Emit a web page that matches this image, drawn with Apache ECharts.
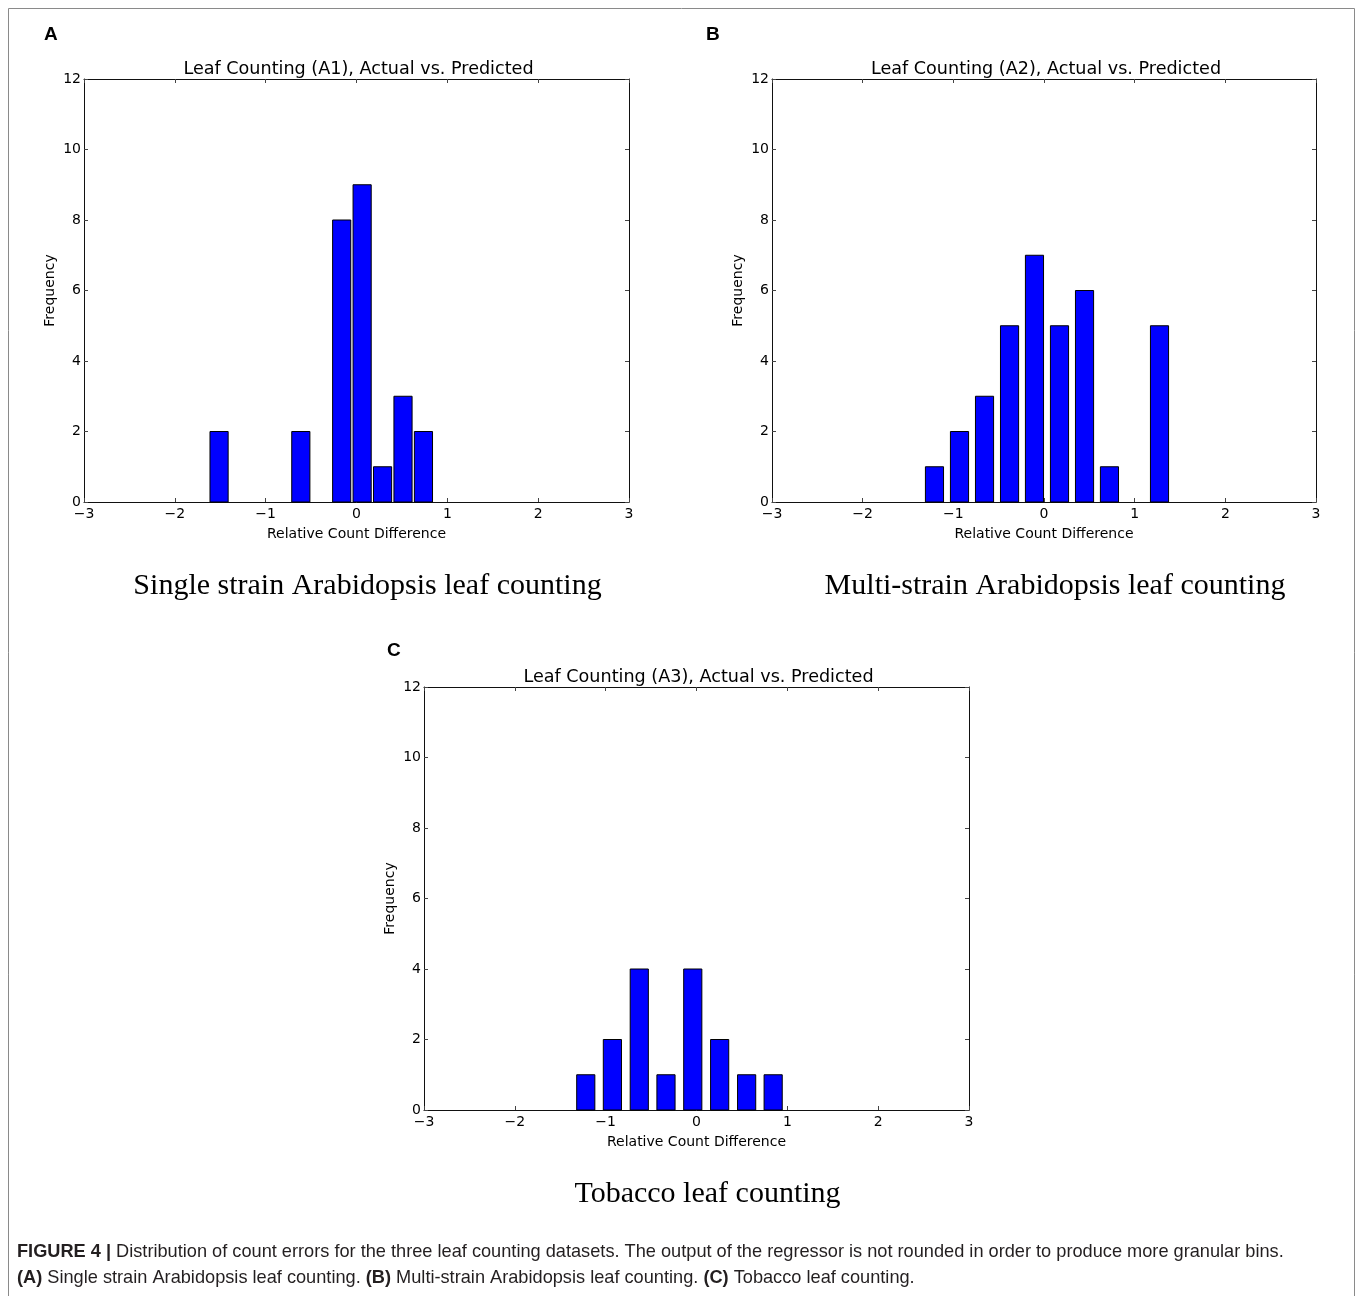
<!DOCTYPE html>
<html><head><meta charset="utf-8">
<script src="https://cdn.jsdelivr.net/npm/echarts@6/dist/echarts.min.js"></script>
<style>html,body{margin:0;padding:0;background:#fff}#c{width:1358px;height:1296px}</style>
</head><body><div id="c"></div>
<script>
// ---------- data ----------
const xTickValues = [-3, -2, -1, 0, 1, 2, 3];
const yTickValues = [0, 2, 4, 6, 8, 10, 12];

const centersA = [-1.513, -1.288, -1.063, -0.838, -0.613, -0.388, -0.163, 0.062, 0.287, 0.512, 0.737];
const countsA  = [2, 0, 0, 0, 2, 0, 8, 9, 1, 3, 2];

const centersB = [-1.208, -0.932, -0.656, -0.380, -0.105, 0.171, 0.447, 0.722, 0.998, 1.274];
const countsB  = [1, 2, 3, 5, 7, 5, 6, 1, 0, 5];

const centersC = [-1.219, -0.926, -0.630, -0.336, -0.041, 0.255, 0.552, 0.844];
const countsC  = [1, 2, 4, 1, 4, 2, 1, 1];

const barWidthData = 0.2;

const chartTitles = [
  'Leaf Counting (A1), Actual vs. Predicted',
  'Leaf Counting (A2), Actual vs. Predicted',
  'Leaf Counting (A3), Actual vs. Predicted'
];
const panelLetters = ['A', 'B', 'C'];
const subtitles = [
  'Single strain Arabidopsis leaf counting',
  'Multi-strain Arabidopsis leaf counting',
  'Tobacco leaf counting'
];
const xName = 'Relative Count Difference';
const yName = 'Frequency';
const captionLine1 = ['FIGURE 4 |', ' Distribution of count errors for the three leaf counting datasets. The output of the regressor is not rounded in order to produce more granular bins.'];
const captionLine2 = [['(A)', ' Single strain Arabidopsis leaf counting. '], ['(B)', ' Multi-strain Arabidopsis leaf counting. '], ['(C)', ' Tobacco leaf counting.']];

// ---------- layout ----------
const grids = [
  {left: 84, top: 79, width: 545, height: 423},
  {left: 772, top: 79, width: 544, height: 423},
  {left: 424, top: 687, width: 545, height: 423}
];
const panelLetterPos = [[44, 35], [706, 35], [387, 651]];
const subtitleY = [586, 586, 1194];

const MPL = 'DejaVu Sans';
const fmt = v => String(v).replace('-', '\u2212');

const chart = echarts.init(document.getElementById('c'), null, {renderer: 'canvas'});

const xAxes = [], yAxes = [], series = [], graphics = [];
const allCenters = [centersA, centersB, centersC];
const allCounts = [countsA, countsB, countsC];

grids.forEach((g, i) => {
  const tickStyle = {show: true, inside: true, length: 4, lineStyle: {color: '#444', width: 1}};
  const lineStyle = {show: true, onZero: false, lineStyle: {color: '#111', width: 1}};
  xAxes.push({
    type: 'value', gridIndex: i, position: 'bottom', min: xTickValues[0], max: xTickValues[xTickValues.length - 1], interval: 1,
    axisLine: lineStyle, axisTick: tickStyle, splitLine: {show: false},
    axisLabel: {show: true, margin: 5, color: '#000', fontFamily: MPL, fontSize: 14, formatter: fmt},
    name: xName, nameLocation: 'middle', nameGap: 25,
    nameTextStyle: {color: '#000', fontFamily: MPL, fontSize: 14}
  });
  xAxes.push({
    type: 'value', gridIndex: i, position: 'top', min: xTickValues[0], max: xTickValues[xTickValues.length - 1], interval: 1,
    axisLine: lineStyle, axisTick: tickStyle, splitLine: {show: false}, axisLabel: {show: false}
  });
  yAxes.push({
    type: 'value', gridIndex: i, position: 'left', min: yTickValues[0], max: yTickValues[yTickValues.length - 1], interval: 2,
    axisLine: lineStyle, axisTick: tickStyle, splitLine: {show: false},
    axisLabel: {show: true, margin: 3, color: '#000', fontFamily: MPL, fontSize: 14},
    name: yName, nameLocation: 'middle', nameGap: 27,
    nameTextStyle: {color: '#000', fontFamily: MPL, fontSize: 14}
  });
  yAxes.push({
    type: 'value', gridIndex: i, position: 'right', min: yTickValues[0], max: yTickValues[yTickValues.length - 1], interval: 2,
    axisLine: lineStyle, axisTick: tickStyle, splitLine: {show: false}, axisLabel: {show: false}
  });

  series.push({
    type: 'custom',
    xAxisIndex: i * 2, yAxisIndex: i * 2,
    data: allCenters[i].map((c, k) => [c, allCounts[i][k]]),
    renderItem: (params, api) => {
      const c = api.value(0), h = api.value(1);
      if (!h) return null;
      const p0 = api.coord([c - barWidthData / 2, h]);
      const p1 = api.coord([c + barWidthData / 2, 0]);
      return {
        type: 'rect',
        shape: {x: p0[0], y: p0[1], width: p1[0] - p0[0], height: p1[1] - p0[1]},
        style: {fill: '#0000ff', stroke: '#000', lineWidth: 1}
      };
    },
    z: 1
  });

  const cx = g.left + g.width / 2;
  graphics.push({
    type: 'text', x: cx + 2, y: g.top - 10,
    style: {text: chartTitles[i], fill: '#000', font: '17.6px "DejaVu Sans"', align: 'center', verticalAlign: 'middle'}
  });
  graphics.push({
    type: 'text', x: panelLetterPos[i][0], y: panelLetterPos[i][1],
    style: {text: panelLetters[i], fill: '#000', font: 'bold 19px "Liberation Sans"', align: 'left', verticalAlign: 'middle'}
  });
  graphics.push({
    type: 'text', x: cx + 11, y: subtitleY[i],
    style: {text: subtitles[i], fill: '#000', font: '30px "Liberation Serif"', align: 'center', verticalAlign: 'middle'}
  });
});

// outer frame
graphics.push({
  type: 'rect', shape: {x: 8.5, y: 8.5, width: 1346, height: 1310},
  style: {fill: 'none', stroke: '#8a8a8a', lineWidth: 1}, silent: true, z: -1
});
// caption
const capRich = {
  b: {font: 'bold 18.2px "Liberation Sans"', fill: '#231f20'},
  r: {font: '18.2px "Liberation Sans"', fill: '#231f20'}
};
graphics.push({
  type: 'text', x: 17, y: 1252,
  style: {text: '{b|' + captionLine1[0] + '}{r|' + captionLine1[1] + '}', rich: capRich, align: 'left', verticalAlign: 'middle'}
});
graphics.push({
  type: 'text', x: 17, y: 1278,
  style: {text: captionLine2.map(p => '{b|' + p[0] + '}{r|' + p[1] + '}').join(''), rich: capRich, align: 'left', verticalAlign: 'middle'}
});

chart.setOption({
  animation: false,
  backgroundColor: '#fff',
  grid: grids.map(g => Object.assign({containLabel: false}, g)),
  xAxis: xAxes,
  yAxis: yAxes,
  series: series,
  graphic: graphics
});
</script>
</body></html>
